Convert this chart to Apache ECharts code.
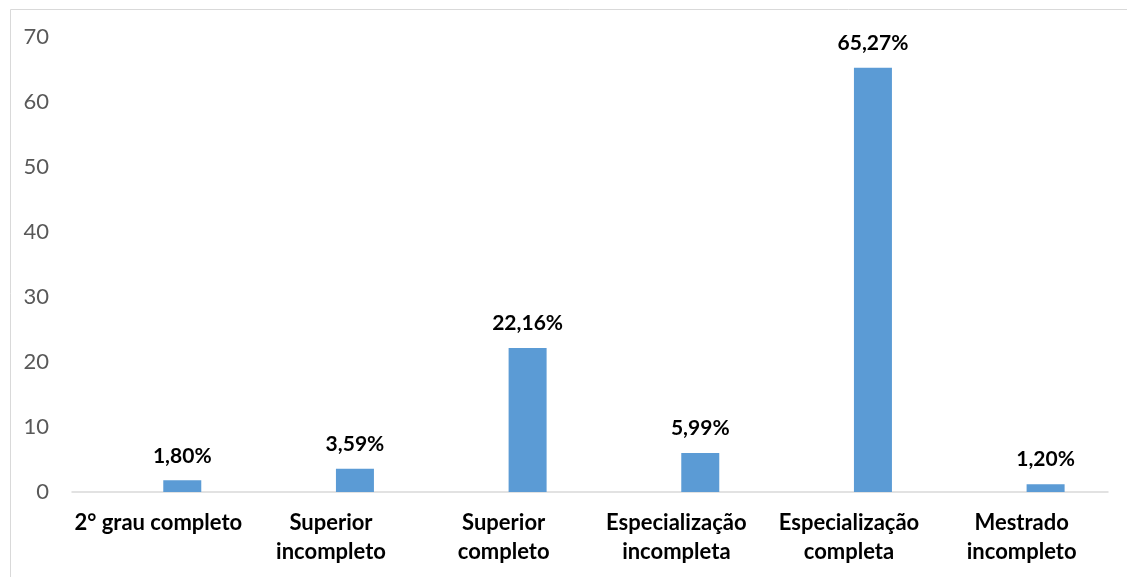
<!DOCTYPE html>
<html><head><meta charset="utf-8">
<script src="https://cdn.jsdelivr.net/npm/echarts@6/dist/echarts.min.js"></script>
<style>html,body{margin:0;padding:0;background:#fff}#c{width:1127px;height:577px}</style>
</head><body><div id="c"></div>
<script>
var categories = ['2° grau completo', 'Superior\nincompleto', 'Superior\ncompleto', 'Especialização\nincompleta', 'Especialização\ncompleta', 'Mestrado\nincompleto'];
var values = [1.80, 3.59, 22.16, 5.99, 65.27, 1.20];
var emptySeries = [null, null, null, null, null, null];
var yTicks = [0, 10, 20, 30, 40, 50, 60, 70];

var chart = echarts.init(document.getElementById('c'));
chart.setOption({
  animation: false,
  grid: { left: 72, right: 19, top: 37, bottom: 85 },
  graphic: [{
    type: 'rect', left: 8, top: 7, silent: true,
    shape: { width: 1130, height: 580 },
    style: { fill: 'none', stroke: '#d9d9d9', lineWidth: 1 }
  }],
  xAxis: {
    type: 'category', data: categories,
    axisLine: { lineStyle: { color: '#d9d9d9', width: 1.5 } },
    axisTick: { show: false },
    axisLabel: { fontFamily: 'Lato', fontWeight: 'bold', fontSize: 22, color: '#000', lineHeight: 29, margin: 16, interval: 0 }
  },
  yAxis: {
    type: 'value', min: yTicks[0], max: yTicks[yTicks.length - 1], interval: 10,
    splitLine: { show: false },
    axisLine: { show: false }, axisTick: { show: false },
    axisLabel: { fontFamily: 'Lato', fontSize: 22, color: '#595959', margin: 23 }
  },
  series: [
    { type: 'bar', data: emptySeries, barWidth: 38, barGap: '26%' },
    {
      type: 'bar', data: values, barWidth: 38, barGap: '26%',
      itemStyle: { color: '#5b9bd5' },
      label: {
        show: true, position: 'top', distance: 14,
        fontFamily: 'Lato', fontWeight: 'bold', fontSize: 21, color: '#000',
        formatter: function (p) { return p.value.toFixed(2).replace('.', ',') + '%'; }
      }
    }
  ]
});
</script></body></html>
